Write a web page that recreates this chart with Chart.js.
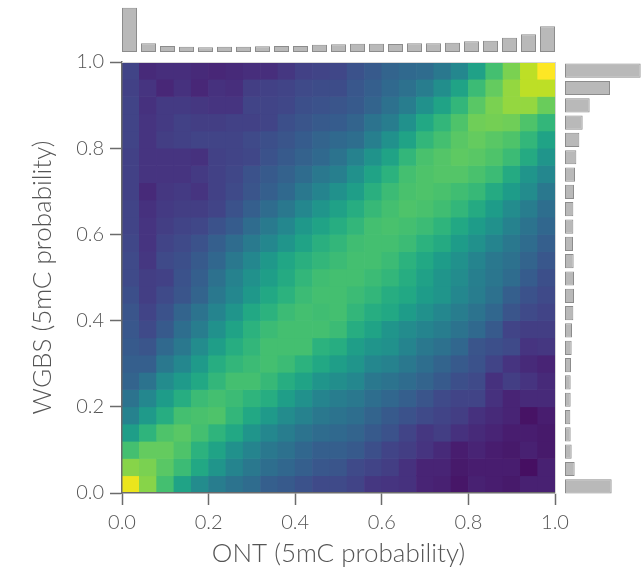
<!DOCTYPE html>
<html>
<head>
<meta charset="utf-8">
<script src="https://cdn.jsdelivr.net/npm/chart.js@4"></script>
<style>
  html, body { margin: 0; padding: 0; background: #fff; }
  #wrap { position: relative; width: 641px; height: 581px; }
  #wrap canvas { position: absolute; left: 0; top: 0; }
</style>
</head>
<body>
<div id="wrap">
  <canvas id="heat" width="641" height="581"></canvas>
  <canvas id="topHist" width="641" height="581"></canvas>
  <canvas id="rightHist" width="641" height="581"></canvas>
</div>
<script>
// 25 x 25 bins over [0, 1] on both axes
const BINS = 25;
const tickValues = [0, 0.2, 0.4, 0.6, 0.8, 1.0];
const tickLabels = ['0.0', '0.2', '0.4', '0.6', '0.8', '1.0'];

// heatmap intensity (0..1 on the colour scale), rows from WGBS = 1.0 down to 0.0,
// columns ONT 0.0 -> 1.0
const density = [
  [0.20,0.12,0.13,0.13,0.12,0.11,0.12,0.13,0.13,0.16,0.19,0.20,0.21,0.25,0.28,0.32,0.34,0.35,0.40,0.46,0.57,0.70,0.80,0.90,1.00],
  [0.19,0.15,0.11,0.14,0.11,0.14,0.13,0.18,0.19,0.20,0.22,0.23,0.23,0.27,0.30,0.34,0.37,0.42,0.49,0.58,0.68,0.76,0.84,0.90,0.90],
  [0.20,0.14,0.17,0.17,0.16,0.15,0.15,0.20,0.20,0.21,0.24,0.25,0.26,0.28,0.32,0.37,0.42,0.50,0.58,0.66,0.74,0.80,0.84,0.84,0.77],
  [0.20,0.15,0.17,0.19,0.18,0.18,0.19,0.19,0.20,0.24,0.26,0.28,0.29,0.32,0.38,0.42,0.50,0.60,0.66,0.72,0.78,0.79,0.78,0.72,0.66],
  [0.20,0.15,0.18,0.19,0.20,0.20,0.20,0.22,0.24,0.26,0.29,0.32,0.34,0.36,0.43,0.50,0.58,0.66,0.70,0.74,0.76,0.74,0.72,0.66,0.58],
  [0.19,0.15,0.15,0.15,0.14,0.19,0.20,0.21,0.25,0.28,0.31,0.34,0.38,0.44,0.51,0.58,0.66,0.71,0.73,0.75,0.74,0.72,0.68,0.61,0.52],
  [0.19,0.15,0.15,0.15,0.17,0.19,0.21,0.25,0.28,0.31,0.35,0.40,0.43,0.50,0.58,0.64,0.70,0.72,0.73,0.73,0.71,0.68,0.61,0.52,0.46],
  [0.19,0.12,0.16,0.17,0.15,0.19,0.22,0.26,0.30,0.34,0.40,0.45,0.50,0.56,0.63,0.68,0.71,0.72,0.71,0.69,0.67,0.61,0.55,0.48,0.40],
  [0.20,0.14,0.17,0.18,0.18,0.20,0.25,0.30,0.35,0.40,0.46,0.52,0.57,0.62,0.67,0.70,0.72,0.71,0.69,0.66,0.61,0.55,0.48,0.42,0.36],
  [0.20,0.15,0.18,0.20,0.21,0.25,0.29,0.35,0.41,0.46,0.53,0.58,0.62,0.66,0.70,0.71,0.70,0.68,0.65,0.60,0.55,0.50,0.44,0.38,0.33],
  [0.21,0.15,0.20,0.22,0.25,0.30,0.35,0.41,0.46,0.52,0.58,0.63,0.66,0.69,0.70,0.70,0.68,0.64,0.61,0.55,0.50,0.45,0.40,0.35,0.30],
  [0.22,0.16,0.22,0.24,0.28,0.33,0.40,0.46,0.53,0.59,0.63,0.66,0.68,0.70,0.70,0.68,0.64,0.60,0.55,0.50,0.45,0.40,0.37,0.32,0.27],
  [0.22,0.18,0.19,0.25,0.30,0.37,0.44,0.50,0.56,0.61,0.66,0.69,0.70,0.70,0.68,0.66,0.62,0.57,0.52,0.48,0.43,0.39,0.35,0.29,0.24],
  [0.24,0.18,0.22,0.26,0.32,0.40,0.46,0.53,0.60,0.64,0.68,0.70,0.70,0.68,0.66,0.62,0.60,0.55,0.52,0.46,0.42,0.37,0.30,0.25,0.22],
  [0.26,0.20,0.25,0.32,0.38,0.45,0.52,0.60,0.64,0.68,0.70,0.69,0.70,0.66,0.62,0.60,0.55,0.50,0.46,0.42,0.38,0.33,0.26,0.22,0.20],
  [0.27,0.22,0.28,0.36,0.42,0.50,0.58,0.64,0.68,0.70,0.70,0.70,0.68,0.62,0.58,0.52,0.48,0.45,0.42,0.38,0.34,0.28,0.20,0.18,0.18],
  [0.28,0.26,0.34,0.40,0.48,0.56,0.62,0.66,0.70,0.70,0.70,0.64,0.62,0.56,0.52,0.50,0.45,0.40,0.37,0.33,0.26,0.24,0.22,0.15,0.16],
  [0.30,0.30,0.40,0.46,0.54,0.62,0.66,0.68,0.70,0.68,0.64,0.60,0.56,0.52,0.46,0.44,0.40,0.36,0.32,0.28,0.25,0.20,0.15,0.12,0.10],
  [0.32,0.38,0.48,0.54,0.60,0.66,0.70,0.70,0.67,0.62,0.58,0.52,0.49,0.46,0.40,0.38,0.35,0.32,0.28,0.24,0.22,0.14,0.18,0.15,0.12],
  [0.38,0.46,0.55,0.62,0.68,0.70,0.68,0.65,0.62,0.56,0.50,0.45,0.42,0.40,0.36,0.33,0.30,0.26,0.22,0.20,0.20,0.14,0.10,0.12,0.12],
  [0.44,0.54,0.62,0.70,0.71,0.72,0.66,0.60,0.54,0.48,0.44,0.40,0.38,0.36,0.32,0.28,0.25,0.22,0.20,0.18,0.14,0.12,0.10,0.05,0.08],
  [0.56,0.65,0.72,0.74,0.70,0.65,0.60,0.52,0.46,0.42,0.38,0.35,0.34,0.32,0.28,0.25,0.20,0.16,0.18,0.14,0.12,0.10,0.08,0.08,0.07],
  [0.70,0.76,0.76,0.72,0.64,0.58,0.50,0.45,0.40,0.37,0.33,0.30,0.30,0.28,0.24,0.20,0.18,0.15,0.12,0.08,0.10,0.08,0.07,0.09,0.07],
  [0.82,0.80,0.74,0.68,0.60,0.52,0.45,0.40,0.36,0.33,0.30,0.27,0.26,0.22,0.20,0.18,0.14,0.10,0.10,0.07,0.08,0.08,0.08,0.04,0.09],
  [0.97,0.82,0.70,0.58,0.48,0.42,0.38,0.35,0.30,0.28,0.25,0.22,0.22,0.20,0.16,0.15,0.14,0.10,0.09,0.06,0.09,0.08,0.07,0.09,0.09]
];

// marginal histograms (relative counts)
const topHist = [133, 26, 18, 16, 14, 16, 16, 17, 18, 18, 22, 23, 25, 25, 24, 26, 26, 28, 32, 34, 43, 53, 77];
// right one runs from WGBS 1.0 down to 0.0
const rightHist = [227, 135, 74, 53, 43, 34, 30, 27, 25, 25, 24, 26, 27, 27, 25, 21, 20, 18, 17, 17, 16, 17, 20, 29, 140];

const AXIS = '#6b6b6b';
const TEXT = '#555555';
const FONT = 'Lato, "Open Sans", sans-serif';
const BAR_FILL = '#b9b9b9';
const BAR_EDGE = '#8c8c8c';

const VIRIDIS = ['#440154','#471365','#482475','#463480','#414487','#3b528b','#355f8d','#2f6c8e',
  '#2a788e','#25848e','#21918c','#1e9c89','#22a884','#2fb47c','#44bf70','#5ec962','#7ad151',
  '#9bd93c','#bddf26','#dfe318','#fde725'];

function hexRgb(h) {
  return [1, 3, 5].map(i => parseInt(h.substr(i, 2), 16));
}

function viridis(t) {
  t = Math.max(0, Math.min(1, t));
  const p = t * (VIRIDIS.length - 1);
  const i = Math.min(Math.floor(p), VIRIDIS.length - 2);
  const f = p - i;
  const a = hexRgb(VIRIDIS[i]);
  const b = hexRgb(VIRIDIS[i + 1]);
  const c = a.map((v, k) => Math.round(v + (b[k] - v) * f));
  return 'rgb(' + c.join(',') + ')';
}

const binWidth = 1 / BINS;
const heatDatasets = density.map((row, r) => {
  const lo = (BINS - 1 - r) * binWidth;
  return {
    data: row.map((v, c) => ({ x: (c + 0.5) * binWidth, y: [lo, lo + binWidth] })),
    backgroundColor: row.map(viridis),
    borderWidth: 0,
    grouped: false,
    barPercentage: 1,
    categoryPercentage: 1,
  };
});

function axisOpts(title, pos) {
  return {
    type: 'linear',
    position: pos,
    min: 0,
    max: 1,
    offset: false,
    afterBuildTicks: s => { s.ticks = tickValues.map(v => ({ value: v })); },
    afterFit: s => {
      if (pos === 'left') s.width = 122;
      else s.height = 88;
    },
    grid: { offset: false, drawOnChartArea: false, tickLength: 12, tickColor: AXIS, tickWidth: 1.5 },
    border: { color: AXIS, width: 1.5, z: 1 },
    ticks: {
      color: TEXT,
      padding: 6,
      maxRotation: 0,
      font: { family: FONT, size: 20, weight: 300 },
      callback: (v, i) => tickLabels[i],
    },
    title: {
      display: true,
      text: title,
      color: TEXT,
      font: { family: FONT, size: 26, weight: 300 },
      padding: pos === 'left' ? { top: 27, bottom: 0 } : { top: 0, bottom: 12 },
    },
  };
}

function frameOpts(pos) {
  return {
    type: 'linear',
    position: pos,
    min: 0,
    max: 1,
    grid: { offset: false, drawOnChartArea: false, drawTicks: false },
    ticks: { display: false },
    border: { color: '#d6d6d6', width: 1, z: 1 },
    afterFit: s => {
      if (pos === 'top') s.height = 0;
      else s.width = 0;
    },
  };
}

const noPlugins = { legend: { display: false }, tooltip: { enabled: false } };

new Chart(document.getElementById('heat'), {
  type: 'bar',
  data: { datasets: heatDatasets },
  options: {
    responsive: false,
    animation: false,
    events: [],
    layout: { padding: { top: 62, right: 86, left: 0, bottom: 0 } },
    plugins: noPlugins,
    scales: {
      x: axisOpts('ONT (5mC probability)', 'bottom'),
      y: axisOpts('WGBS (5mC probability)', 'left'),
      xTop: frameOpts('top'),
      yRight: frameOpts('right'),
    },
  },
});

new Chart(document.getElementById('topHist'), {
  type: 'bar',
  data: {
    labels: topHist.map((_, i) => i),
    datasets: [{
      data: topHist,
      backgroundColor: BAR_FILL,
      borderColor: BAR_EDGE,
      borderWidth: 1,
      borderSkipped: false,
      barPercentage: 0.79,
      categoryPercentage: 1,
    }],
  },
  options: {
    responsive: false,
    animation: false,
    events: [],
    layout: { padding: { left: 120, right: 84, top: 0, bottom: 529 } },
    plugins: noPlugins,
    scales: { x: { display: false }, y: { display: false, min: 0, max: 156 } },
  },
});

new Chart(document.getElementById('rightHist'), {
  type: 'bar',
  data: {
    labels: rightHist.map((_, i) => i),
    datasets: [{
      data: rightHist,
      backgroundColor: BAR_FILL,
      borderColor: BAR_EDGE,
      borderWidth: 1,
      borderSkipped: false,
      barPercentage: 0.82,
      categoryPercentage: 1,
    }],
  },
  options: {
    indexAxis: 'y',
    responsive: false,
    animation: false,
    events: [],
    layout: { padding: { left: 565, right: 0, top: 62, bottom: 86 } },
    plugins: noPlugins,
    scales: { x: { display: false, min: 0, max: 228 }, y: { display: false } },
  },
});
</script>
</body>
</html>
